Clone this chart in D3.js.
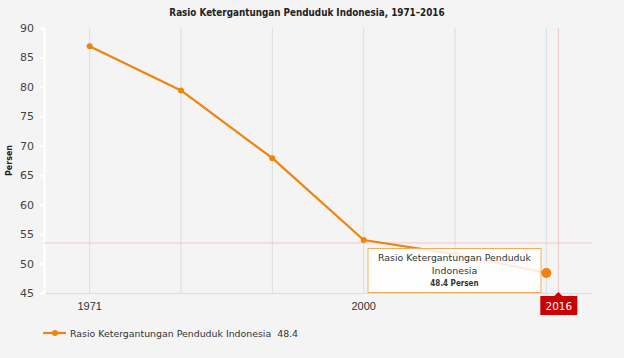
<!DOCTYPE html>
<html><head><meta charset="utf-8">
<script src="https://cdn.jsdelivr.net/npm/d3@7"></script>
<style>
html,body{margin:0;padding:0;background:#f4f4f4;}
svg{display:block;font-family:"DejaVu Sans",Verdana,sans-serif;}
</style></head>
<body><svg id="c" width="624" height="358"></svg>
<script>
const categories = ["1971","1980","1990","2000","2010","2016"];
const values = [86.9, 79.4, 67.9, 54.0, 51.6, 48.4];
const yTicks = [45,50,55,60,65,70,75,80,85,90];
const xTickLabels = ["1971","2000"];
const seriesName = "Rasio Ketergantungan Penduduk Indonesia";
const unit = "Persen";
const title = "Rasio Ketergantungan Penduduk Indonesia, 1971\u20132016";
const hovered = "2016";
const crosshairValue = 53.5;

const svg = d3.select("#c");
const m = {l:44, r:32, t:28, b:65};
const W = 624, H = 358;
const x = d3.scaleBand().domain(categories).range([m.l, W - m.r]);
const y = d3.scaleLinear().domain([45, 90]).range([H - m.b, m.t]);
const cx = c => x(c) + x.bandwidth()/2;
const orange = "#f0830f";

svg.append("rect").attr("width",W).attr("height",H).attr("fill","#f4f4f4");

// title
svg.append("text").attr("x",307).attr("y",16).attr("text-anchor","middle")
  .attr("font-size",9.8).attr("font-weight","bold").attr("fill","#222")
  .attr("font-family","'DejaVu Sans Condensed','DejaVu Sans',sans-serif").text(title);

// vertical grid lines
svg.append("g").selectAll("line").data(categories).join("line")
  .attr("x1",d=>cx(d)).attr("x2",d=>cx(d)).attr("y1",y(90)).attr("y2",y(45))
  .attr("stroke","#dcdcdc").attr("stroke-width",1);

// x axis line
svg.append("line").attr("x1",m.l).attr("x2",W-m.r).attr("y1",y(45)+0.5).attr("y2",y(45)+0.5)
  .attr("stroke","#dedede");

// y axis
const yAxis = d3.axisLeft(y).tickValues(yTicks).tickSize(4).tickPadding(6);
const ya = svg.append("g").attr("transform",`translate(${m.l},0)`).call(yAxis);
ya.select(".domain").attr("stroke","#ffffff").attr("stroke-width",2);
ya.selectAll(".tick line").attr("stroke","#ffffff").attr("stroke-width",2);
ya.selectAll(".tick text").attr("font-size",11).attr("fill","#444").attr("font-family","'DejaVu Sans',Verdana,sans-serif");

// x axis labels
const xAxis = d3.axisBottom(x).tickValues(xTickLabels).tickSize(0).tickPadding(9);
const xa = svg.append("g").attr("transform",`translate(0,${y(45)})`).call(xAxis);
xa.select(".domain").remove();
xa.selectAll(".tick text").attr("font-size",11).attr("fill","#333");

// y label
svg.append("text").attr("transform",`translate(12,${(y(45)+y(90))/2}) rotate(-90)`)
  .attr("text-anchor","middle").attr("font-size",8).attr("font-weight","bold").attr("fill","#222").text(unit);

// crosshairs
svg.append("line").attr("x1",m.l).attr("x2",W-m.r).attr("y1",y(crosshairValue)).attr("y2",y(crosshairValue))
  .attr("stroke","#f2c6c6").attr("stroke-width",1);
const chX = cx(hovered) + 12;
svg.append("line").attr("x1",chX).attr("x2",chX).attr("y1",y(90)).attr("y2",y(45))
  .attr("stroke","#f2c6c6").attr("stroke-width",1);

// line
const data = categories.map((c,i)=>({c, v: values[i]}));
svg.append("path").datum(data)
  .attr("fill","none").attr("stroke",orange).attr("stroke-width",2.2).attr("stroke-linejoin","round")
  .attr("d", d3.line().x(d=>cx(d.c)).y(d=>y(d.v)));
svg.append("g").selectAll("circle").data(data.filter(d=>d.c!==hovered)).join("circle")
  .attr("cx",d=>cx(d.c)).attr("cy",d=>y(d.v)).attr("r",3).attr("fill",orange);

// tooltip
const hv = data.find(d=>d.c===hovered);
const tg = svg.append("g");
tg.append("rect").attr("x",368).attr("y",248.5).attr("width",173).attr("height",44)
  .attr("fill","#ffffff").attr("fill-opacity",0.85).attr("stroke","#f5ab5c").attr("stroke-width",1);
tg.append("text").attr("x",454.5).attr("y",261).attr("text-anchor","middle").attr("font-size",9.4).attr("fill","#333").text("Rasio Ketergantungan Penduduk");
tg.append("text").attr("x",454.5).attr("y",273.5).attr("text-anchor","middle").attr("font-size",9.4).attr("fill","#333").text("Indonesia");
tg.append("text").attr("x",454.5).attr("y",286).attr("text-anchor","middle").attr("font-size",8).attr("font-weight","bold").attr("fill","#333")
  .attr("font-family","'DejaVu Sans Condensed','DejaVu Sans',sans-serif").text(`${hv.v} ${unit}`);

// hovered point
svg.append("circle").attr("cx",cx(hv.c)).attr("cy",y(hv.v)).attr("r",5).attr("fill",orange);

// crosshair label
const lg = svg.append("g");
lg.append("path").attr("d",`M${chX-4},${y(45)+3} L${chX},${y(45)-1} L${chX+4},${y(45)+3} Z`).attr("fill","#cc0000");
lg.append("rect").attr("x",chX-18).attr("y",y(45)+3).attr("width",37).attr("height",19).attr("fill","#cc0000");
lg.append("text").attr("x",chX+0.5).attr("y",y(45)+16.5).attr("text-anchor","middle").attr("font-size",10.5).attr("fill","#fff").text(hovered);

// legend
const ly = 333;
svg.append("line").attr("x1",43).attr("x2",66).attr("y1",ly).attr("y2",ly).attr("stroke",orange).attr("stroke-width",2.2);
svg.append("circle").attr("cx",55).attr("cy",ly).attr("r",3).attr("fill",orange);
svg.append("text").attr("x",70).attr("y",ly+4).attr("font-size",9.4).attr("fill","#333")
  .attr("xml:space","preserve").text(`${seriesName}  ${hv.v}`);
</script></body></html>
